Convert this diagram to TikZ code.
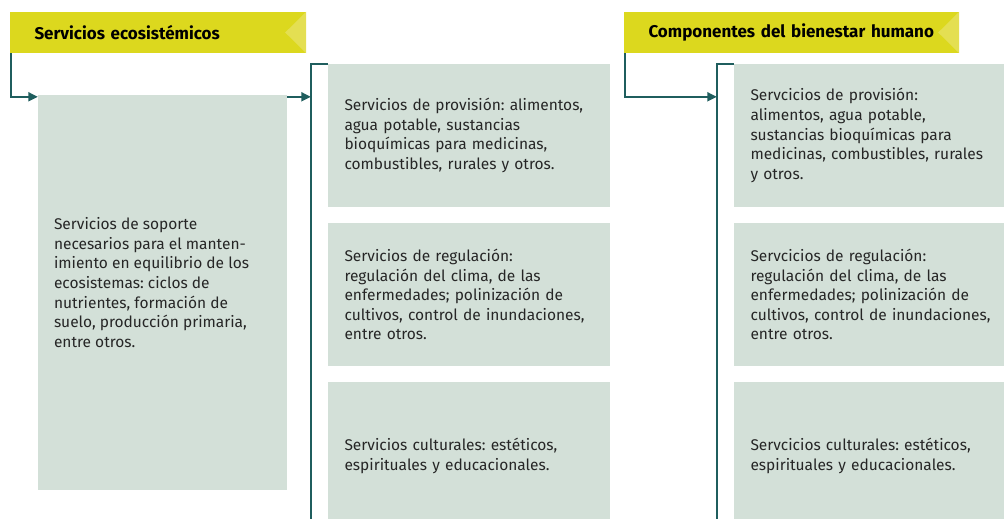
\documentclass[tikz,border=0pt]{standalone}
\usepackage{fontspec}
\setmainfont{Fira Sans}
\usetikzlibrary{arrows.meta}
\frenchspacing

\definecolor{boxgreen}{RGB}{211,224,216}
\definecolor{bandyellow}{RGB}{220,216,30}
\definecolor{notchyellow}{RGB}{228,223,82}
\definecolor{lineteal}{RGB}{31,94,94}

\tikzset{
  band/.style={fill=bandyellow, minimum height=41pt, inner ysep=0pt, inner xsep=24.5pt,
    align=left, font=\bfseries\fontsize{17}{20}\selectfont},
  notch/.style={fill=notchyellow},
  box/.style={fill=boxgreen, inner ysep=0pt, inner xsep=16.5pt, align=left,
    font=\fontsize{15.5}{19.6}\selectfont, text=black!85},
  boxtext/.style={inner sep=0pt, align=left, font=\fontsize{15.5}{19.6}\selectfont, text=black!85},
  conn/.style={draw=lineteal, line width=2pt},
  arr/.style={conn, -{Triangle[length=9.5pt,width=9pt]}}
}

\begin{document}
\begin{tikzpicture}[x=1pt,y=-1pt]
    \useasboundingbox (0,0) rectangle (1004,519);
    % headers
    \node[band, text width=247pt] (hdrA) at (158,32.5) {Servicios ecosistémicos};
    \node[band, text width=286pt] (hdrB) at (791.5,32.5) {Componentes del bienestar humano};
    \fill[notch] (hdrA.north east) -- ([xshift=-21pt]hdrA.east) -- (hdrA.south east) -- cycle;
    \fill[notch] (hdrB.north east) -- ([xshift=-21pt]hdrB.east) -- (hdrB.south east) -- cycle;

    \node[box, minimum width=249pt, minimum height=395pt] (sop) at (162.5,292.5) {};
    \node[boxtext, anchor=west] (soptxt) at ([xshift=16pt,yshift=10pt]sop.west) {Servicios de soporte\\
      necesarios para el manten-\\imiento en equilibrio de los\\ecosistemas: ciclos de\\
      nutrientes, formación de\\suelo, producción primaria,\\entre otros.};

    \node[box, minimum width=282pt, minimum height=143pt, text width=249pt] (provA) at (469,135.5)
      {Servicios de provisión: alimentos,\\agua potable, sustancias\\bioquímicas para medicinas,\\combustibles, rurales y otros.};
    \node[box, minimum width=282pt, minimum height=143pt, text width=249pt] (regA) at (469,294.5)
      {Servicios de regulación:\\regulación del clima, de las\\enfermedades; polinización de\\cultivos, control de inundaciones,\\entre otros.};
    \node[box, minimum width=282pt, minimum height=148pt, text width=249pt] (cultA) at (469,456)
      {Servicios culturales: estéticos,\\espirituales y educacionales.};

    \node[box, minimum width=290pt, minimum height=143pt, text width=257pt] (provB) at (879,135.5)
      {Servcicios de provisión:\\alimentos, agua potable,\\sustancias bioquímicas para\\medicinas, combustibles, rurales\\y otros.};
    \node[box, minimum width=290pt, minimum height=143pt, text width=257pt] (regB) at (879,294.5)
      {Servcicios de regulación:\\regulación del clima, de las\\enfermedades; polinización de\\cultivos, control de inundaciones,\\entre otros.};
    \node[box, minimum width=290pt, minimum height=148pt, text width=257pt] (cultB) at (879,456)
      {Servcicios culturales: estéticos,\\espirituales y educacionales.};

    % brackets
    \coordinate (brAtop) at ([xshift=-17pt]provA.north west);
    \coordinate (brAbot) at (brAtop |- cultA.south);
    \coordinate (brBtop) at ([xshift=-17pt]provB.north west);
    \coordinate (brBbot) at (brBtop |- cultB.south);
    \draw[conn] (provA.north west) -- (brAtop) -- (brAbot);
    \draw[conn] (provB.north west) -- (brBtop) -- (brBbot);

    \draw[arr] ([xshift=1pt]hdrA.south west) |- ([yshift=-2pt]sop.north west);
    \draw[arr] ([yshift=-2pt]sop.north east) -- ([yshift=-2pt]sop.north east -| brAtop);
    \draw[arr] ([xshift=1pt]hdrB.south west) |- ([yshift=-2pt]sop.north east -| brBtop);
\end{tikzpicture}
\end{document}
